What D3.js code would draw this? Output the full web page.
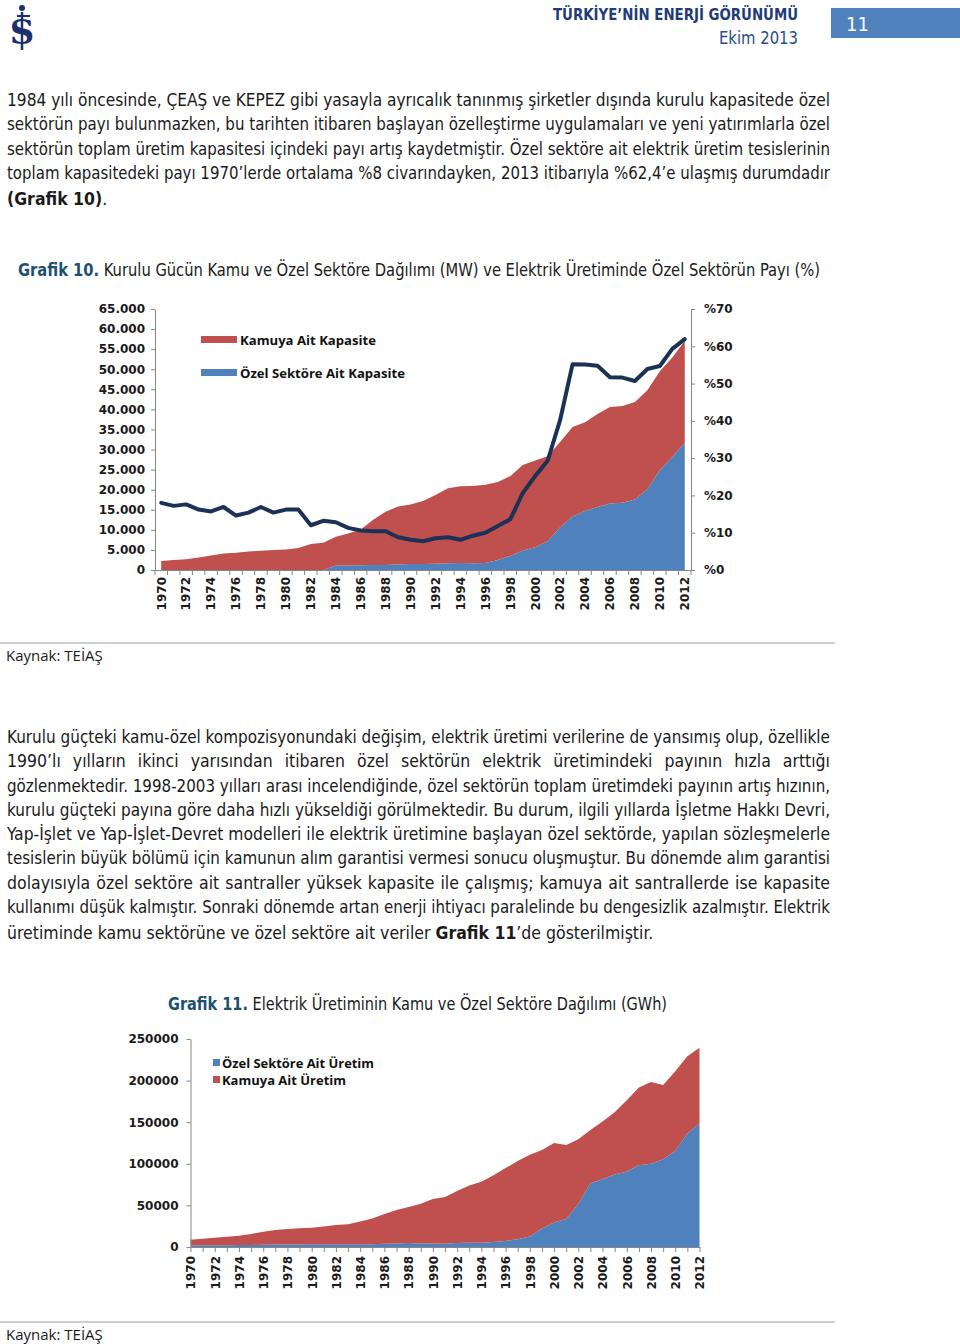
<!DOCTYPE html>
<html><head><meta charset="utf-8">
<script src="https://cdn.jsdelivr.net/npm/d3@7"></script>
<style>
body{margin:0;background:#fff;}
svg{display:block;}
.body{font-family:"Liberation Sans Narrow","DejaVu Sans Condensed","Roboto",sans-serif;font-size:17.5px;fill:#1a1a1a;}
.ax text{font-family:"DejaVu Sans",sans-serif;font-weight:bold;font-size:12px;fill:#1a1a1a;}
.ax path,.ax line{stroke:#868686;}
.leg{font-family:"Open Sans","DejaVu Sans",sans-serif;font-weight:bold;font-size:13px;fill:#111;}
.src{font-family:"Open Sans","DejaVu Sans",sans-serif;font-size:15px;fill:#1a1a1a;}
</style></head><body>
<svg id="page" width="960" height="1344"></svg>
<script>
// ---------- DATA ----------
const years = [1970,1971,1972,1973,1974,1975,1976,1977,1978,1979,1980,1981,1982,1983,1984,1985,1986,1987,1988,1989,1990,1991,1992,1993,1994,1995,1996,1997,1998,1999,2000,2001,2002,2003,2004,2005,2006,2007,2008,2009,2010,2011,2012];
const yearTickLabels = ["1970","1972","1974","1976","1978","1980","1982","1984","1986","1988","1990","1992","1994","1996","1998","2000","2002","2004","2006","2008","2010","2012"];

// Grafik 10 - installed capacity (MW)
const kamuKapasite = [2235,2500,2650,3100,3600,4100,4300,4600,4800,5000,5100,5450,6500,6800,7200,8000,8900,11250,13250,14450,14800,15700,17120,18670,19110,19280,19500,19390,19850,21290,21590,21160,21180,22260,22150,23170,23990,24090,24240,24680,24690,24740,25390];
const ozelKapasite = [0,0,0,0,0,0,0,0,0,0,0,0,0,0,1100,1100,1200,1250,1250,1350,1500,1500,1580,1670,1750,1670,1750,2500,3500,4830,5670,7170,10670,13330,14670,15670,16580,16750,17580,20080,24830,28170,31670];
// private sector share of generation (%)
const ozelPay = [18.0,17.2,17.6,16.2,15.7,16.9,14.6,15.4,16.9,15.4,16.2,16.2,12.0,13.2,12.8,11.3,10.6,10.4,10.4,8.8,8.1,7.7,8.5,8.8,8.1,9.2,10.0,11.8,13.6,20.6,25.2,29.3,40.2,55.2,55.1,54.8,51.7,51.6,50.7,53.9,54.7,59.3,61.9];
const leftTicks1 = [0,5000,10000,15000,20000,25000,30000,35000,40000,45000,50000,55000,60000,65000];
const leftTickLabels1 = ["0","5.000","10.000","15.000","20.000","25.000","30.000","35.000","40.000","45.000","50.000","55.000","60.000","65.000"];
const rightTicks1 = [0,10,20,30,40,50,60,70];
const rightTickLabels1 = ["%0","%10","%20","%30","%40","%50","%60","%70"];

// Grafik 11 - generation (GWh)
const ozelUretim = [1800,2000,2100,2200,2300,2500,2700,2900,3000,3100,3200,3300,3400,3300,3200,3400,3800,4300,4700,4200,4100,4040,4850,5250,5250,6060,7270,9290,12520,22210,29480,33520,51700,76740,81580,87240,90870,98140,100160,105410,115500,136500,148630];
const kamuUretim = [6823,7781,9142,10225,11177,13123,15583,17665,18726,19422,20075,21373,23152,24047,27414,30819,35895,40053,43349,47843,53443,56206,62492,68558,73072,80187,87592,94006,98502,94230,95442,89205,77700,63841,69118,74716,85430,93418,98258,89403,95708,92895,90867];
const leftTicks2 = [0,50000,100000,150000,200000,250000];

// ---------- PAGE ----------
const svg = d3.select("#page");
const RED = "#c0504d", BLUE = "#4f81bd", NAVY = "#1b3156";

function textLine(parent, segs, x, y, width, justify, cls) {
  const t = parent.append("text").attr("class", cls).attr("x", x).attr("y", y);
  segs.forEach(s => {
    const ts = t.append("tspan").text(s.t);
    if (s.b) ts.attr("font-weight", "bold");
    if (s.c) ts.attr("fill", s.c);
  });
  if (justify) {
    const w = t.node().getComputedTextLength();
    const full = segs.map(s => s.t).join("");
    const n = (full.trim().match(/\s+/g) || []).length;
    if (w < width && n > 0) t.attr("word-spacing", (width - w) / n);
    else if (w > width) t.attr("textLength", width).attr("lengthAdjust", "spacingAndGlyphs");
  }
  return t;
}
function fitText(t, width) {
  t.attr("textLength", width).attr("lengthAdjust", "spacingAndGlyphs");
}

// header
const logo = svg.append("g").attr("fill", "#1f2f6b").attr("stroke", "#1f2f6b");
logo.append("line").attr("x1", 22).attr("x2", 22).attr("y1", 12).attr("y2", 50).attr("stroke-width", 2.5);
logo.append("circle").attr("cx", 22).attr("cy", 8).attr("r", 3).attr("stroke", "none");
logo.append("line").attr("x1", 17).attr("x2", 30).attr("y1", 16).attr("y2", 16).attr("stroke-width", 2);
logo.append("text").attr("x", 22).attr("y", 44).attr("text-anchor", "middle").attr("stroke", "none")
  .style("font-family", "DejaVu Serif").style("font-weight", "bold").style("font-size", "34px").text("S");

const h1 = svg.append("text").attr("x", 553).attr("y", 20).attr("fill", "#1f3c78")
  .style("font-family", "\"Liberation Sans Narrow\",\"DejaVu Sans Condensed\",Roboto,sans-serif")
  .style("font-weight", "bold").style("font-size", "16px").text("TÜRKİYE’NİN ENERJİ GÖRÜNÜMÜ");
fitText(h1, 245);
const h2 = svg.append("text").attr("x", 719).attr("y", 44).attr("fill", "#2b4b8c")
  .style("font-family", "\"Liberation Sans Narrow\",\"DejaVu Sans Condensed\",Roboto,sans-serif")
  .style("font-size", "17px").text("Ekim 2013");
fitText(h2, 79);
svg.append("rect").attr("x", 831).attr("y", 8).attr("width", 129).attr("height", 30).attr("fill", "#4f81bd");
svg.append("text").attr("x", 846).attr("y", 31).attr("fill", "#fff")
  .style("font-family", "\"Liberation Sans Narrow\",\"DejaVu Sans Condensed\",Roboto,sans-serif")
  .style("font-size", "20px").text("11");

// paragraph 1
const L = 7, W = 823;
const p1 = [
  [{t:"1984 yılı öncesinde, ÇEAŞ ve KEPEZ gibi yasayla ayrıcalık tanınmış şirketler dışında kurulu kapasitede özel"}],
  [{t:"sektörün payı bulunmazken, bu tarihten itibaren başlayan özelleştirme uygulamaları ve yeni yatırımlarla özel"}],
  [{t:"sektörün toplam üretim kapasitesi içindeki payı artış kaydetmiştir. Özel sektöre ait elektrik üretim tesislerinin"}],
  [{t:"toplam kapasitedeki payı 1970’lerde ortalama %8 civarındayken, 2013 itibarıyla %62,4’e ulaşmış durumdadır"}],
  [{t:"(Grafik 10)", b:true}, {t:"."}]
];
const p1y = [106, 130, 155, 179, 205];
p1.forEach((s, i) => textLine(svg, s, L, p1y[i], W, i < p1.length - 1, "body"));

textLine(svg, [{t:"Grafik 10.", b:true, c:"#1d4f73"}, {t:" Kurulu Gücün Kamu ve Özel Sektöre Dağılımı (MW) ve Elektrik Üretiminde Özel Sektörün Payı (%)"}],
  18, 276, 802, true, "body");

// ---------- CHART 1 ----------
const c1 = svg.append("g");
const xb1 = d3.scaleBand().domain(years).range([155, 691]).padding(0);
const xc1 = d => xb1(d) + xb1.bandwidth() / 2;
const yL1 = d3.scaleLinear().domain([0, 65000]).range([570, 309]);
const yR1 = d3.scaleLinear().domain([0, 70]).range([570, 309]);

const rows1 = years.map((y, i) => ({year: y, ozel: ozelKapasite[i], kamu: kamuKapasite[i]}));
const st1 = d3.stack().keys(["ozel", "kamu"])(rows1);
const area1 = d3.area().x(d => xc1(d.data.year)).y0(d => yL1(d[0])).y1(d => yL1(d[1]));
c1.selectAll("path.ar").data(st1).join("path").attr("class", "ar")
  .attr("d", area1).attr("fill", d => d.key === "ozel" ? BLUE : RED);

// axes
const gl1 = c1.append("g").attr("class", "ax").attr("transform", "translate(155,0)")
  .call(d3.axisLeft(yL1).tickValues(leftTicks1).tickFormat((d, i) => leftTickLabels1[i]).tickSize(4).tickSizeOuter(0).tickPadding(6));
const gr1 = c1.append("g").attr("class", "ax").attr("transform", "translate(691,0)")
  .call(d3.axisRight(yR1).tickValues(rightTicks1).tickFormat((d, i) => rightTickLabels1[i]).tickSize(4).tickSizeOuter(0).tickPadding(9));
const gb1 = c1.append("g").attr("class", "ax").attr("transform", "translate(0,570)")
  .call(d3.axisBottom(xb1).tickValues(yearTickLabels.map(Number)).tickSize(0).tickSizeOuter(0).tickPadding(0));
gb1.selectAll("text").attr("transform", "rotate(-90)").attr("x", -7).attr("y", 0).attr("dy", "0.36em").style("text-anchor", "end");
c1.append("g").selectAll("line").data(years.concat([null])).join("line")
  .attr("x1", d => d === null ? 691 : xb1(d)).attr("x2", d => d === null ? 691 : xb1(d))
  .attr("y1", 570).attr("y2", 575).attr("stroke", "#868686");

// share line
c1.append("path").datum(years)
  .attr("d", d3.line().x(d => xc1(d)).y((d, i) => yR1(ozelPay[i])))
  .attr("fill", "none").attr("stroke", NAVY).attr("stroke-width", 4).attr("stroke-linejoin", "round").attr("stroke-linecap", "round");

// legend
c1.append("rect").attr("x", 201).attr("y", 336).attr("width", 36).attr("height", 7).attr("fill", RED);
fitText(c1.append("text").attr("class", "leg").attr("x", 240).attr("y", 344.5).text("Kamuya Ait Kapasite"), 136);
c1.append("rect").attr("x", 201).attr("y", 369).attr("width", 36).attr("height", 7).attr("fill", BLUE);
fitText(c1.append("text").attr("class", "leg").attr("x", 240).attr("y", 377.5).text("Özel Sektöre Ait Kapasite"), 165);

// source 1
svg.append("line").attr("x1", 0).attr("x2", 835).attr("y1", 643).attr("y2", 643).attr("stroke", "#bfbfbf").attr("stroke-width", 1.5);
svg.append("text").attr("class", "src").attr("x", 6).attr("y", 661).text("Kaynak: TEİAŞ");

// paragraph 2
const p2 = [
  [{t:"Kurulu güçteki kamu-özel kompozisyonundaki değişim, elektrik üretimi verilerine de yansımış olup, özellikle"}],
  [{t:"1990’lı yılların ikinci yarısından itibaren özel sektörün elektrik üretimindeki payının hızla arttığı"}],
  [{t:"gözlenmektedir. 1998-2003 yılları arası incelendiğinde, özel sektörün toplam üretimdeki payının artış hızının,"}],
  [{t:"kurulu güçteki payına göre daha hızlı yükseldiği görülmektedir. Bu durum, ilgili yıllarda İşletme Hakkı Devri,"}],
  [{t:"Yap-İşlet ve Yap-İşlet-Devret modelleri ile elektrik üretimine başlayan özel sektörde, yapılan sözleşmelerle"}],
  [{t:"tesislerin büyük bölümü için kamunun alım garantisi vermesi sonucu oluşmuştur. Bu dönemde alım garantisi"}],
  [{t:"dolayısıyla özel sektöre ait santraller yüksek kapasite ile çalışmış; kamuya ait santrallerde ise kapasite"}],
  [{t:"kullanımı düşük kalmıştır. Sonraki dönemde artan enerji ihtiyacı paralelinde bu dengesizlik azalmıştır. Elektrik"}],
  [{t:"üretiminde kamu sektörüne ve özel sektöre ait veriler "}, {t:"Grafik 11", b:true}, {t:"’de gösterilmiştir."}]
];
const p2y = [743, 767, 792, 816, 840, 864, 889, 913, 939];
p2.forEach((s, i) => textLine(svg, s, L, p2y[i], W, i < p2.length - 1, "body"));

textLine(svg, [{t:"Grafik 11.", b:true, c:"#1d4f73"}, {t:" Elektrik Üretiminin Kamu ve Özel Sektöre Dağılımı (GWh)"}],
  168, 1010, 499, true, "body");

// ---------- CHART 2 ----------
const c2 = svg.append("g");
const xp2 = d3.scalePoint().domain(years).range([190.5, 699.5]);
const y2 = d3.scaleLinear().domain([0, 250000]).range([1247, 1039]);
const rows2 = years.map((y, i) => ({year: y, ozel: ozelUretim[i], kamu: kamuUretim[i]}));
const st2 = d3.stack().keys(["ozel", "kamu"])(rows2);
const area2 = d3.area().x(d => xp2(d.data.year)).y0(d => y2(d[0])).y1(d => y2(d[1]));
c2.selectAll("path.ar").data(st2).join("path").attr("class", "ar")
  .attr("d", area2).attr("fill", d => d.key === "ozel" ? BLUE : RED);

c2.append("g").attr("class", "ax").attr("transform", "translate(190.5,0)")
  .call(d3.axisLeft(y2).tickValues(leftTicks2).tickFormat(d3.format("d")).tickSize(4).tickSizeOuter(0).tickPadding(8));
const gb2 = c2.append("g").attr("class", "ax").attr("transform", "translate(0,1247)")
  .call(d3.axisBottom(xp2).tickValues(years).tickFormat(d => yearTickLabels.includes(String(d)) ? String(d) : "").tickSize(5).tickSizeOuter(0).tickPadding(0));
gb2.selectAll("text").attr("transform", "rotate(-90)").attr("x", -9).attr("y", 0).attr("dy", "0.36em").style("text-anchor", "end");

c2.append("rect").attr("x", 213).attr("y", 1059).attr("width", 7).attr("height", 7).attr("fill", BLUE);
fitText(c2.append("text").attr("class", "leg").attr("x", 222).attr("y", 1068).text("Özel Sektöre Ait Üretim"), 152);
c2.append("rect").attr("x", 213).attr("y", 1076).attr("width", 7).attr("height", 7).attr("fill", RED);
fitText(c2.append("text").attr("class", "leg").attr("x", 222).attr("y", 1085).text("Kamuya Ait Üretim"), 124);

svg.append("line").attr("x1", 0).attr("x2", 835).attr("y1", 1322).attr("y2", 1322).attr("stroke", "#bfbfbf").attr("stroke-width", 1.5);
svg.append("text").attr("class", "src").attr("x", 6).attr("y", 1340).text("Kaynak: TEİAŞ");
</script>
</body></html>
